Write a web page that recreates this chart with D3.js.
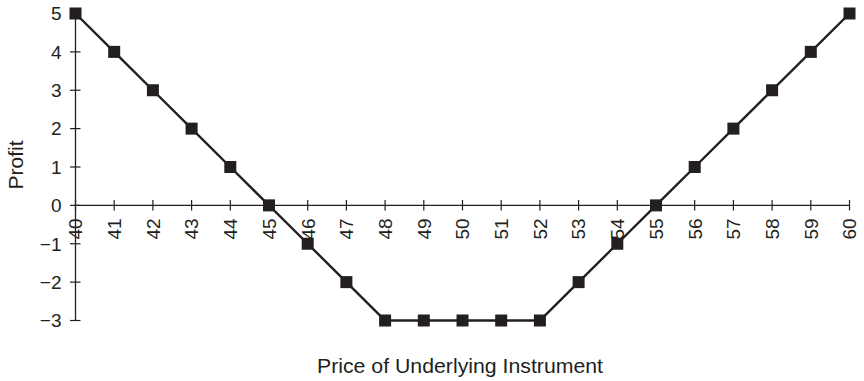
<!DOCTYPE html>
<html><head><meta charset="utf-8">
<script src="https://cdn.jsdelivr.net/npm/d3@7"></script>
<style>
html,body{margin:0;padding:0;background:#fff;}
svg{display:block;font-family:"Liberation Sans",Arial,Helvetica,sans-serif;}
</style></head>
<body>
<svg id="c" width="864" height="381"></svg>
<script>
const prices = [40,41,42,43,44,45,46,47,48,49,50,51,52,53,54,55,56,57,58,59,60];
const profits = [5,4,3,2,1,0,-1,-2,-3,-3,-3,-3,-3,-2,-1,0,1,2,3,4,5];
const xTicks = [40,41,42,43,44,45,46,47,48,49,50,51,52,53,54,55,56,57,58,59,60];
const yTicks = [-3,-2,-1,0,1,2,3,4,5];
const xTitle = "Price of Underlying Instrument";
const yTitle = "Profit";

const ink = "#231f20";
const svg = d3.select("#c");
const x = d3.scaleLinear().domain([40,60]).range([75.5,849.5]);
const y = d3.scaleLinear().domain([-3,5]).range([320.5,13.5]);

// y axis
const yAxis = svg.append("g").attr("transform",`translate(${x(40)},0)`);
yAxis.append("line").attr("y1",y(-3)).attr("y2",y(5)).attr("stroke",ink).attr("stroke-width",1.3);
yAxis.selectAll("line.t").data(yTicks).join("line").attr("class","t")
  .attr("x1",-5.5).attr("x2",5).attr("y1",d=>y(d)).attr("y2",d=>y(d)).attr("stroke",ink).attr("stroke-width",1.2);
yAxis.selectAll("text").data(yTicks).join("text")
  .attr("x",-14).attr("y",d=>y(d)).attr("dy","0.36em").attr("text-anchor","end")
  .attr("font-size",19).attr("fill",ink)
  .text(d=>d<0?"\u2212"+Math.abs(d):String(d));

// x axis at y=0
const xAxis = svg.append("g").attr("transform",`translate(0,${y(0)})`);
xAxis.append("line").attr("x1",x(40)).attr("x2",x(60)).attr("stroke",ink).attr("stroke-width",1.3);
xAxis.selectAll("line.t").data(xTicks).join("line").attr("class","t")
  .attr("x1",d=>x(d)).attr("x2",d=>x(d)).attr("y1",-5.5).attr("y2",5).attr("stroke",ink).attr("stroke-width",1.2);
xAxis.selectAll("text").data(xTicks).join("text")
  .attr("transform",d=>`translate(${x(d)},13) rotate(-90)`)
  .attr("dy","0.36em").attr("text-anchor","end")
  .attr("font-size",19).attr("fill",ink)
  .text(d=>d);

// line
const pts = prices.map((p,i)=>[p,profits[i]]);
svg.append("path").datum(pts)
  .attr("d",d3.line().x(d=>x(d[0])).y(d=>y(d[1])))
  .attr("fill","none").attr("stroke",ink).attr("stroke-width",2.4);
svg.selectAll("rect.m").data(pts).join("rect").attr("class","m")
  .attr("x",d=>x(d[0])-6).attr("y",d=>y(d[1])-6).attr("width",12).attr("height",12)
  .attr("fill",ink);

// titles
svg.append("text").attr("x",460).attr("y",373).attr("text-anchor","middle")
  .attr("font-size",21).attr("fill",ink).attr("textLength",286).attr("lengthAdjust","spacingAndGlyphs").text(xTitle);
svg.append("text").attr("transform",`translate(23,165) rotate(-90)`).attr("text-anchor","middle")
  .attr("font-size",21).attr("fill",ink).text(yTitle);
</script>
</body></html>
